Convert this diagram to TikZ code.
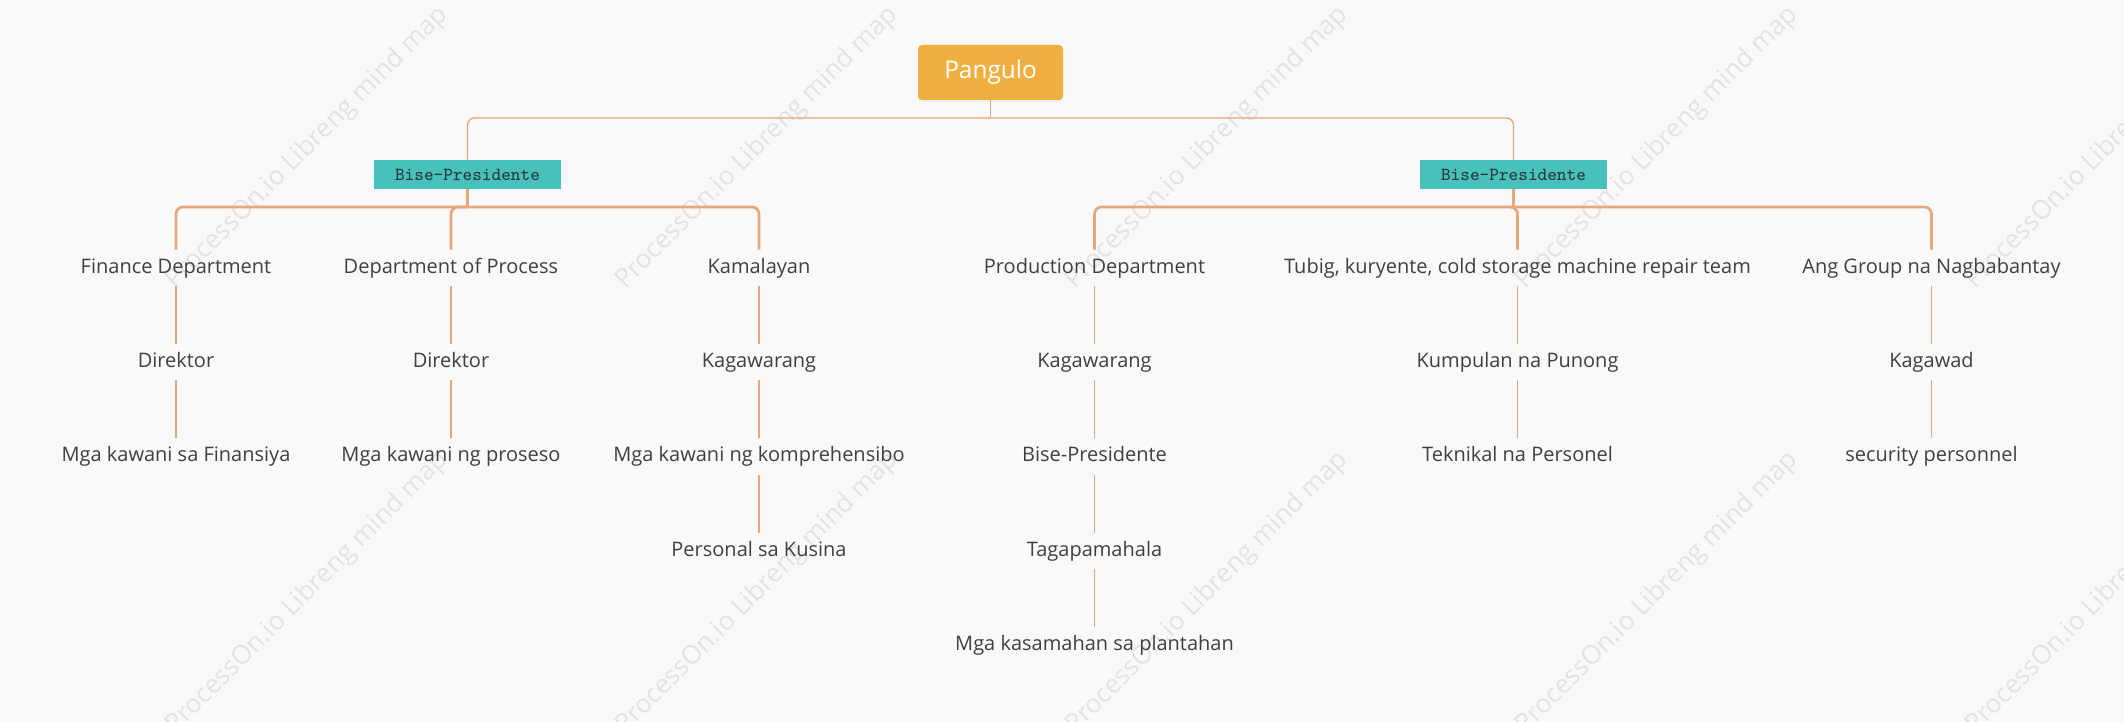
\documentclass[tikz,border=0pt]{standalone}
\usepackage{fontspec}
\setmainfont{Open Sans}
\usetikzlibrary{shadows}
\definecolor{canvas}{HTML}{F9F9F9}
\definecolor{peach}{HTML}{E6A77B}
\definecolor{gold}{HTML}{EFB041}
\definecolor{vpteal}{HTML}{48C0BC}
\definecolor{ink}{HTML}{404040}
\definecolor{vpink}{HTML}{263838}
\definecolor{wmark}{HTML}{E3E3E3}

\tikzset{
  item/.style={text=ink, font=\fontsize{10}{12}\selectfont, text height=7.5pt, text depth=2.5pt, inner xsep=2pt, inner ysep=4pt},
  root/.style={fill=gold, text=white, rounded corners=2pt, font=\fontsize{12.2}{14}\selectfont, minimum width=72.5pt, minimum height=27.5pt, inner sep=0pt, drop shadow={shadow xshift=0pt, shadow yshift=-1pt, opacity=0.08}},
  vp/.style={fill=vpteal, text=vpink, font=\ttfamily\fontsize{9.2}{11}\selectfont, minimum width=93.5pt, minimum height=14.5pt, inner sep=0pt},
  link/.style={draw=peach, line width=0.65pt},
  trunk/.style={draw=peach, line width=1.35pt}
}

\begin{document}
\begin{tikzpicture}[x=0.5pt,y=-0.5pt]
\fill[canvas] (0,0) rectangle (2124,722);
\useasboundingbox (0,0) rectangle (2124,722);

% watermark
\begin{scope}
\clip (0,0) rectangle (2124,722);
\foreach \wx in {-275,175,625,1075,1525,1975}
  \foreach \wy in {290,735}
    \node[rotate=45, anchor=base west, inner sep=0pt, text=wmark, font=\fontsize{13}{15}\selectfont] at (\wx,\wy) {ProcessOn.io Libreng mind map};
\end{scope}

% top
\node[root] (pangulo) at (990.5,72.5) {Pangulo};
\node[vp] (vpleft) at (467.5,174.5) {Bise-Presidente};
\node[vp] (vpright) at (1513.5,174.5) {Bise-Presidente};

\draw[link] (pangulo.south) -- (990.5,118) coordinate (j0);
\draw[link, rounded corners=3.5pt] (j0) -| (vpleft.north);
\draw[link, rounded corners=3.5pt] (j0) -| (vpright.north);

% left branch
\node[item] (fin) at (176,268) {Finance Department};
\node[item] (findir) at (176,362) {Direktor};
\node[item] (finstaff) at (176,456.5) {Mga kawani sa Finansiya};

\node[item] (proc) at (451,268) {Department of Process};
\node[item] (procdir) at (451,362) {Direktor};
\node[item] (procstaff) at (451,456.5) {Mga kawani ng proseso};

\node[item] (kam) at (759,268) {Kamalayan};
\node[item] (kamdep) at (759,362) {Kagawarang};
\node[item] (kamstaff) at (759,456.5) {Mga kawani ng komprehensibo};
\node[item] (kusina) at (759,551) {Personal sa Kusina};

\draw[trunk] (vpleft.south) -- (467.5,207) coordinate (jl);
\draw[trunk, rounded corners=3.5pt] (jl) -| (fin.north);
\draw[trunk, rounded corners=3.5pt] (jl) -| (proc.north);
\draw[trunk, rounded corners=3.5pt] (jl) -| (kam.north);

\draw[link] (fin) -- (findir);
\draw[link] (findir) -- (finstaff);
\draw[link] (proc) -- (procdir);
\draw[link] (procdir) -- (procstaff);
\draw[link] (kam) -- (kamdep);
\draw[link] (kamdep) -- (kamstaff);
\draw[link] (kamstaff) -- (kusina);

% right branch
\node[item] (prod) at (1094.5,268) {Production Department};
\node[item] (prodkag) at (1094.5,362) {Kagawarang};
\node[item] (prodvp) at (1094.5,456.5) {Bise-Presidente};
\node[item] (prodmgr) at (1094.5,551) {Tagapamahala};
\node[item] (prodcrew) at (1094.5,645) {Mga kasamahan sa plantahan};

\node[item] (util) at (1517.5,268) {Tubig, kuryente, cold storage machine repair team};
\node[item] (utilhead) at (1517.5,362) {Kumpulan na Punong};
\node[item] (utiltech) at (1517.5,456.5) {Teknikal na Personel};

\node[item] (guard) at (1931.5,268) {Ang Group na Nagbabantay};
\node[item] (guardkag) at (1931.5,362) {Kagawad};
\node[item] (guardstaff) at (1931.5,456.5) {security personnel};

\draw[trunk] (vpright.south) -- (1513.5,207) coordinate (jr);
\draw[trunk, rounded corners=3.5pt] (jr) -| (prod.north);
\draw[trunk, rounded corners=3.5pt] (jr) -| (util.north);
\draw[trunk, rounded corners=3.5pt] (jr) -| (guard.north);

\draw[link] (prod) -- (prodkag);
\draw[link] (prodkag) -- (prodvp);
\draw[link] (prodvp) -- (prodmgr);
\draw[link] (prodmgr) -- (prodcrew);
\draw[link] (util) -- (utilhead);
\draw[link] (utilhead) -- (utiltech);
\draw[link] (guard) -- (guardkag);
\draw[link] (guardkag) -- (guardstaff);

\end{tikzpicture}
\end{document}
